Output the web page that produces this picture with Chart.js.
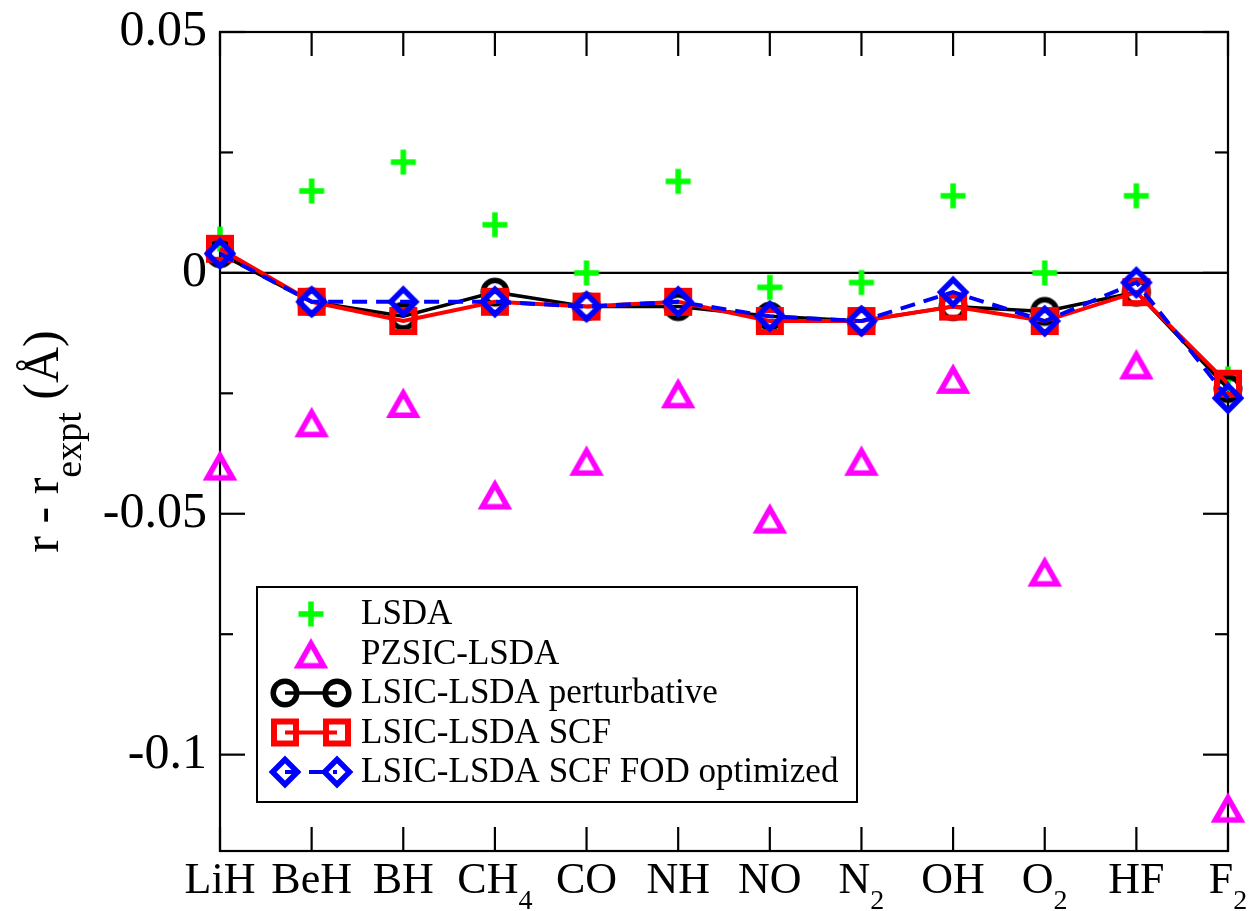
<!DOCTYPE html>
<html>
<head>
<meta charset="utf-8">
<script src="https://cdn.jsdelivr.net/npm/chart.js@4.4.0/dist/chart.umd.min.js"></script>
<style>
  html, body { margin: 0; padding: 0; background: #fff; }
</style>
</head>
<body>
<canvas id="myChart" width="1252" height="911"></canvas>
<script>
const categories = ["LiH", "BeH", "BH", "CH4", "CO", "NH", "NO", "N2", "OH", "O2", "HF", "F2"];

const lsda         = [0.007, 0.017, 0.023, 0.010, 0.000, 0.019, -0.003, -0.002, 0.016, 0.000, 0.016, -0.022];
const pzsic        = [-0.040, -0.031, -0.027, -0.046, -0.039, -0.025, -0.051, -0.039, -0.022, -0.062, -0.019, -0.111];
const lsicPert     = [0.004, -0.006, -0.009, -0.004, -0.007, -0.007, -0.009, -0.010, -0.007, -0.008, -0.004, -0.024];
const lsicScf      = [0.005, -0.006, -0.010, -0.006, -0.007, -0.006, -0.010, -0.010, -0.007, -0.010, -0.004, -0.023];
const lsicScfFod   = [0.004, -0.006, -0.006, -0.006, -0.007, -0.006, -0.009, -0.010, -0.004, -0.010, -0.002, -0.026];

const yTickValues  = [0.05, 0, -0.05, -0.1];
const yMinorTicks  = [0.025, -0.025, -0.075];

const serif = "'Liberation Serif', 'Times New Roman', serif";

// marker images, drawn centred on the point by chart.js
function makeMarker(type, color, lw)
{
    const c = document.createElement('canvas');
    c.width = 46;
    c.height = 46;
    const g = c.getContext('2d');
    g.strokeStyle = color;
    g.lineWidth = lw;
    g.lineJoin = 'miter';
    g.translate(23, 23);
    g.beginPath();
    if (type === 'plus') {
        g.moveTo(-12.5, 0); g.lineTo(12.5, 0);
        g.moveTo(0, -12.5); g.lineTo(0, 12.5);
    } else if (type === 'triangle') {
        g.moveTo(0, -10); g.lineTo(12.6, 12.3); g.lineTo(-12.6, 12.3); g.closePath();
    } else if (type === 'circle') {
        g.arc(0, 0, 11.8, 0, Math.PI * 2);
    } else if (type === 'square') {
        g.rect(-11, -11, 22, 22);
    } else if (type === 'diamond') {
        g.moveTo(0, -12.5); g.lineTo(12.5, 0); g.lineTo(0, 12.5); g.lineTo(-12.5, 0); g.closePath();
    }
    g.stroke();
    return c;
}

const datasets = [
    { label: 'LSDA', data: lsda, borderColor: '#00ff00', showLine: false,
      pointStyle: makeMarker('plus', '#00ff00', 5.5), order: 5 },
    { label: 'PZSIC-LSDA', data: pzsic, borderColor: '#ff00ff', showLine: false,
      pointStyle: makeMarker('triangle', '#ff00ff', 5.5), order: 4 },
    { label: 'LSIC-LSDA perturbative', data: lsicPert, borderColor: '#000000', borderWidth: 3.5,
      pointStyle: makeMarker('circle', '#000000', 5.5), order: 3 },
    { label: 'LSIC-LSDA SCF', data: lsicScf, borderColor: '#ff0000', borderWidth: 4,
      pointStyle: makeMarker('square', '#ff0000', 6), order: 2 },
    { label: 'LSIC-LSDA SCF FOD optimized', data: lsicScfFod, borderColor: '#0000ff', borderWidth: 4,
      borderDash: [15, 9], pointStyle: makeMarker('diamond', '#0000ff', 5.5), order: 1 }
].map(ds => Object.assign({ fill: false, pointRadius: 12, clip: false, tension: 0 }, ds));

function drawLine(ctx, x1, y1, x2, y2)
{
    ctx.beginPath();
    ctx.moveTo(x1, y1);
    ctx.lineTo(x2, y2);
    ctx.stroke();
}

// text with trailing digits as subscript, centred on cx
function drawSubLabel(ctx, text, cx, baseY)
{
    const m = text.match(/^(\D+)(\d*)$/);
    const main = m[1], sub = m[2];
    ctx.font = '44px ' + serif;
    const w1 = ctx.measureText(main).width;
    ctx.font = '28px ' + serif;
    const w2 = sub ? ctx.measureText(sub).width : 0;
    let x = cx - (w1 + w2) / 2;
    ctx.textAlign = 'left';
    ctx.textBaseline = 'alphabetic';
    ctx.font = '44px ' + serif;
    ctx.fillText(main, x, baseY);
    if (sub) {
        ctx.font = '28px ' + serif;
        ctx.fillText(sub, x + w1, baseY + 16);
    }
}

const framePlugin = {
    id: 'frame',
    beforeDatasetsDraw(chart)
    {
        const { ctx, chartArea: a, scales: { x, y } } = chart;
        ctx.save();
        ctx.strokeStyle = '#000';
        ctx.lineWidth = 2.2;
        const y0 = y.getPixelForValue(0);
        drawLine(ctx, a.left, y0, a.right, y0);
        ctx.strokeRect(a.left, a.top, a.right - a.left, a.bottom - a.top);
        categories.forEach((c, i) => {
            const px = x.getPixelForValue(i);
            drawLine(ctx, px, a.bottom, px, a.bottom - 24);
            drawLine(ctx, px, a.top, px, a.top + 24);
        });
        yTickValues.forEach(v => {
            const py = y.getPixelForValue(v);
            drawLine(ctx, a.left, py, a.left + 25, py);
            drawLine(ctx, a.right, py, a.right - 25, py);
        });
        yMinorTicks.forEach(v => {
            const py = y.getPixelForValue(v);
            drawLine(ctx, a.left, py, a.left + 13, py);
            drawLine(ctx, a.right, py, a.right - 13, py);
        });
        ctx.restore();
    },
    afterDraw(chart)
    {
        const { ctx, chartArea: a, scales: { x } } = chart;
        ctx.save();
        ctx.fillStyle = '#000';

        // x tick labels
        categories.forEach((c, i) => drawSubLabel(ctx, c, x.getPixelForValue(i), a.bottom + 42));

        // y axis title
        const parts = [
            { t: 'r - r', f: '50px ' + serif, dy: 0 },
            { t: 'expt', f: '38px ' + serif, dy: 23 },
            { t: ' (\u00C5)', f: '50px ' + serif, dy: 0 }
        ];
        let total = 0;
        parts.forEach(p => { ctx.font = p.f; p.w = ctx.measureText(p.t).width; total += p.w; });
        ctx.translate(58, (a.top + a.bottom) / 2);
        ctx.rotate(-Math.PI / 2);
        ctx.textAlign = 'left';
        ctx.textBaseline = 'alphabetic';
        let tx = -total / 2;
        parts.forEach(p => { ctx.font = p.f; ctx.fillText(p.t, tx, p.dy); tx += p.w; });
        ctx.setTransform(1, 0, 0, 1, 0, 0);

        // legend
        const box = { left: 257, top: 587, right: 857, bottom: 802 };
        ctx.fillStyle = '#fff';
        ctx.fillRect(box.left, box.top, box.right - box.left, box.bottom - box.top);
        ctx.strokeStyle = '#000';
        ctx.lineWidth = 2;
        ctx.strokeRect(box.left, box.top, box.right - box.left, box.bottom - box.top);
        chart.data.datasets.forEach((ds, i) => {
            const rowY = box.top + 27 + i * 39.5;
            const img = ds.pointStyle;
            if (ds.showLine === false) {
                ctx.drawImage(img, 311 - img.width / 2, rowY - img.height / 2);
            } else {
                ctx.save();
                ctx.strokeStyle = ds.borderColor;
                ctx.lineWidth = ds.borderWidth;
                ctx.setLineDash(ds.borderDash || []);
                drawLine(ctx, 285, rowY, 337, rowY);
                ctx.restore();
                ctx.drawImage(img, 285 - img.width / 2, rowY - img.height / 2);
                ctx.drawImage(img, 337 - img.width / 2, rowY - img.height / 2);
            }
            ctx.fillStyle = '#000';
            ctx.font = '35px ' + serif;
            ctx.textAlign = 'left';
            ctx.textBaseline = 'middle';
            ctx.fillText(ds.label, 361, rowY + 1);
        });
        ctx.restore();
    }
};

new Chart(document.getElementById('myChart').getContext('2d'), {
    type: 'line',
    data: { labels: categories, datasets: datasets },
    options: {
        responsive: false,
        animation: false,
        layout: { padding: { top: 32, right: 24, left: 0, bottom: 0 } },
        plugins: { legend: { display: false }, tooltip: { enabled: false } },
        scales: {
            x: {
                type: 'category',
                offset: false,
                grid: { display: false, drawTicks: false },
                border: { display: false },
                ticks: { display: false },
                afterFit: s => { s.height = 60; s.paddingLeft = 0; s.paddingRight = 0; }
            },
            y: {
                min: -0.12,
                max: 0.05,
                afterBuildTicks: s => { s.ticks = yTickValues.map(v => ({ value: v })); },
                grid: { display: false, drawTicks: false },
                border: { display: false },
                ticks: {
                    color: '#000',
                    padding: 13,
                    font: { family: serif, size: 50, lineHeight: 0.8 },
                    callback: v => String(v)
                },
                afterFit: s => { s.width = 220; s.paddingTop = 0; s.paddingBottom = 0; }
            }
        }
    },
    plugins: [framePlugin]
});
</script>
</body>
</html>
